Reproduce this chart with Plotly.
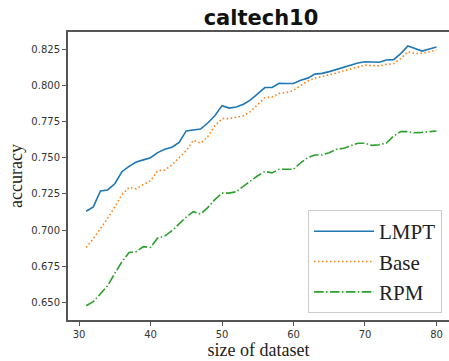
import plotly.graph_objects as go

sizes = list(range(31, 81))

lmpt = [0.713, 0.716, 0.727, 0.7277, 0.732, 0.7403, 0.744, 0.747, 0.7485, 0.750,
        0.7535, 0.7558, 0.7572, 0.7605, 0.7685, 0.7692, 0.7698, 0.774, 0.779, 0.786,
        0.7843, 0.785, 0.787, 0.790, 0.794, 0.7985, 0.7985, 0.8015, 0.8013, 0.8013,
        0.8035, 0.805, 0.8078, 0.8083, 0.8095, 0.811, 0.8125, 0.8142, 0.8155, 0.8163,
        0.8162, 0.816, 0.8175, 0.8178, 0.822, 0.8273, 0.8255, 0.8237, 0.8252, 0.8265]

base = [0.688, 0.694, 0.701, 0.708, 0.716, 0.7245, 0.7295, 0.7285, 0.7315, 0.734,
        0.741, 0.7415, 0.745, 0.750, 0.755, 0.762, 0.760, 0.7645, 0.772, 0.777,
        0.777, 0.778, 0.779, 0.782, 0.787, 0.7915, 0.792, 0.7945, 0.795, 0.7965,
        0.800, 0.803, 0.805, 0.806, 0.807, 0.8085, 0.810, 0.8115, 0.8128, 0.814,
        0.8137, 0.8135, 0.8145, 0.815, 0.8185, 0.8233, 0.822, 0.8222, 0.8232, 0.8245]

rpm = [0.6477, 0.6505, 0.656, 0.6615, 0.670, 0.678, 0.6845, 0.685, 0.6885, 0.688,
       0.6945, 0.6958, 0.6995, 0.704, 0.709, 0.7127, 0.711, 0.7155, 0.721, 0.7255,
       0.7255, 0.7265, 0.7305, 0.734, 0.7375, 0.7405, 0.7395, 0.742, 0.742, 0.742,
       0.7465, 0.750, 0.7519, 0.7519, 0.7535, 0.7558, 0.7565, 0.7585, 0.760, 0.760,
       0.7585, 0.759, 0.7602, 0.765, 0.768, 0.768, 0.7672, 0.7675, 0.768, 0.7685]

x_ticks = [30, 40, 50, 60, 70, 80]
y_ticks = [0.650, 0.675, 0.700, 0.725, 0.750, 0.775, 0.800, 0.825]
y_tick_labels = ["0.650", "0.675", "0.700", "0.725", "0.750", "0.775", "0.800", "0.825"]

fig = go.Figure()
fig.add_trace(go.Scatter(x=sizes, y=lmpt, mode="lines", name="LMPT",
                         line=dict(color="#1f77b4", width=1.6)))
fig.add_trace(go.Scatter(x=sizes, y=base, mode="lines", name="Base",
                         line=dict(color="#ff7f0e", width=1.6, dash="1.5px,2.5px")))
fig.add_trace(go.Scatter(x=sizes, y=rpm, mode="lines", name="RPM",
                         line=dict(color="#2ca02c", width=1.6, dash="9.6px,2.4px,1.5px,2.4px")))

axis_common = dict(showgrid=False, zeroline=False, showline=True, linecolor="#555555",
                   linewidth=2, ticks="outside", ticklen=4, tickwidth=1, tickcolor="#555555",
                   tickfont=dict(family="DejaVu Sans", size=10, color="#333333"))

fig.update_layout(
    width=449, height=361,
    margin=dict(l=68, r=0, t=32, b=41),
    paper_bgcolor="white", plot_bgcolor="white",
    title=dict(text="<b>caltech10</b>", x=261/449, xanchor="center", y=1 - 18/361, yanchor="middle",
               font=dict(family="DejaVu Sans", size=21, color="#111111")),
    xaxis=dict(range=[28.46, 81.75], tickvals=x_ticks, mirror=True,
               title=dict(text="size of dataset", standoff=4,
                          font=dict(family="Liberation Serif", size=18, color="#222222")),
               **axis_common),
    yaxis=dict(range=[0.6378, 0.8369], tickvals=y_ticks, ticktext=y_tick_labels,
               title=dict(text="accuracy", standoff=4,
                          font=dict(family="Liberation Serif", size=18, color="#222222")),
               **axis_common),
    legend=dict(x=0.63, y=0.024, xanchor="left", yanchor="bottom",
                bordercolor="#cccccc", borderwidth=1, bgcolor="rgba(255,255,255,0.8)",
                font=dict(family="Liberation Serif", size=21, color="#222222"),
                itemwidth=60),
    showlegend=True,
)

fig.write_html("out.html")
